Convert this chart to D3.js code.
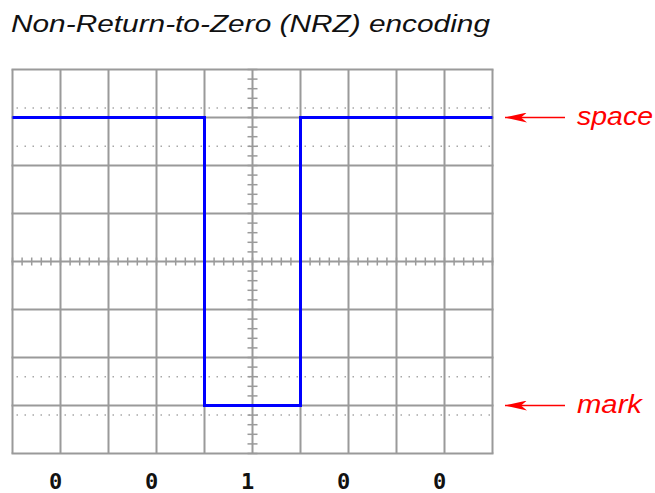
<!DOCTYPE html>
<html>
<head>
<meta charset="utf-8">
<script src="https://cdn.jsdelivr.net/npm/d3@7"></script>
<style>
  body { margin: 0; background: #fff; }
  svg { display: block; }
</style>
</head>
<body>
<svg width="655" height="493"></svg>
<script>
var titleText = "Non-Return-to-Zero (NRZ) encoding";
var bits = [0, 0, 1, 0, 0];
var levelOf = { 0: 3, 1: -3 };          // divisions: space = +3, mark = -3
var markers = [{ name: "space", level: 3, len: 76 }, { name: "mark", level: -3, len: 65 }];
var dottedLevels = [3.2, 2.4, -2.4, -3.2];
var divsX = 10, divsY = 8, minorPerDiv = 5;

var svg = d3.select("svg"),
    grid = { left: 12.5, top: 69.5, right: 492.5, bottom: 453.5 };

var x = d3.scaleLinear().domain([0, divsX]).range([grid.left, grid.right]);
var y = d3.scaleLinear().domain([-divsY / 2, divsY / 2]).range([grid.bottom, grid.top]);

// title (the source is a bit wider than Liberation, so stretch it)
svg.append("text")
  .attr("x", 11).attr("y", 31.5)
  .attr("textLength", 479)
  .attr("lengthAdjust", "spacingAndGlyphs")
  .style("font-family", "'Liberation Sans', Arial, sans-serif")
  .style("font-style", "italic")
  .style("font-size", "24px")
  .style("fill", "#111")
  .text(titleText);

var g = svg.append("g").attr("class", "graticule");

// dotted reference lines
g.selectAll(".dot")
  .data(dottedLevels)
  .enter().append("line")
    .attr("x1", grid.left + 4).attr("x2", grid.right)
    .attr("y1", function (d) { return y(d); })
    .attr("y2", function (d) { return y(d); })
    .attr("stroke", "#a8a8a8")
    .attr("stroke-width", 1.5)
    .attr("stroke-dasharray", "1.5,6.5");

// main grid
g.selectAll(".vx")
  .data(d3.range(0, divsX + 1))
  .enter().append("line")
    .attr("x1", function (d) { return x(d); }).attr("x2", function (d) { return x(d); })
    .attr("y1", grid.top).attr("y2", grid.bottom)
    .attr("stroke", "#9a9a9a").attr("stroke-width", 2);
g.selectAll(".hy")
  .data(d3.range(-divsY / 2, divsY / 2 + 1))
  .enter().append("line")
    .attr("y1", function (d) { return y(d); }).attr("y2", function (d) { return y(d); })
    .attr("x1", grid.left - 1).attr("x2", grid.right + 1)
    .attr("stroke", "#9a9a9a").attr("stroke-width", 2);

// minor ticks on the centre axes
var minorX = d3.range(0, divsX * minorPerDiv + 1).map(function (i) { return i / minorPerDiv; });
var minorY = d3.range(-divsY / 2 * minorPerDiv, divsY / 2 * minorPerDiv + 1).map(function (i) { return i / minorPerDiv; });
g.selectAll(".tx")
  .data(minorX)
  .enter().append("line")
    .attr("x1", function (d) { return x(d); }).attr("x2", function (d) { return x(d); })
    .attr("y1", y(0) - 4).attr("y2", y(0) + 4)
    .attr("stroke", "#9a9a9a").attr("stroke-width", 1.5);
g.selectAll(".ty")
  .data(minorY)
  .enter().append("line")
    .attr("y1", function (d) { return y(d); }).attr("y2", function (d) { return y(d); })
    .attr("x1", x(divsX / 2) - 5).attr("x2", x(divsX / 2) + 5)
    .attr("stroke", "#9a9a9a").attr("stroke-width", 1.5);

// the NRZ waveform
var bitWidth = divsX / bits.length;
var pts = [];
bits.forEach(function (b, i) {
  pts.push([i * bitWidth, levelOf[b]]);
  pts.push([(i + 1) * bitWidth, levelOf[b]]);
});
var line = d3.line()
  .x(function (d) { return x(d[0]); })
  .y(function (d) { return y(d[1]); });
svg.append("path")
  .datum(pts)
  .attr("d", line)
  .attr("fill", "none")
  .attr("stroke", "#0000ff")
  .attr("stroke-width", 3)
  .attr("stroke-linejoin", "miter");

// bit labels
svg.selectAll(".bit")
  .data(bits)
  .enter().append("text")
    .attr("x", function (d, i) { return x((i + 0.5) * bitWidth) - 5; })
    .attr("y", 489)
    .attr("text-anchor", "middle")
    .style("font-family", "'DejaVu Sans Mono', monospace")
    .style("font-weight", "bold")
    .style("font-size", "22px")
    .style("fill", "#111")
    .text(function (d) { return d; });

// space / mark arrows
svg.append("defs").append("marker")
  .attr("id", "head")
  .attr("viewBox", "0 0 22 10")
  .attr("refX", 0).attr("refY", 5)
  .attr("markerWidth", 22).attr("markerHeight", 10)
  .attr("markerUnits", "userSpaceOnUse")
  .attr("orient", "auto")
  .append("path")
    .attr("d", "M0,5 L22,0 L16,5 L22,10 Z")
    .attr("fill", "#ff0000");

var ann = svg.selectAll(".ann")
  .data(markers)
  .enter().append("g");
ann.append("line")
  .attr("x1", 505).attr("x2", 565)
  .attr("y1", function (d) { return y(d.level); })
  .attr("y2", function (d) { return y(d.level); })
  .attr("stroke", "#ff0000").attr("stroke-width", 1.5)
  .attr("marker-start", "url(#head)");
ann.append("text")
  .attr("x", 577)
  .attr("y", function (d) { return y(d.level) + 7; })
  .attr("textLength", function (d) { return d.len; })
  .attr("lengthAdjust", "spacingAndGlyphs")
  .style("font-family", "'Liberation Sans', Arial, sans-serif")
  .style("font-style", "italic")
  .style("font-size", "25px")
  .style("fill", "#ff0000")
  .text(function (d) { return d.name; });
</script>
</body>
</html>
